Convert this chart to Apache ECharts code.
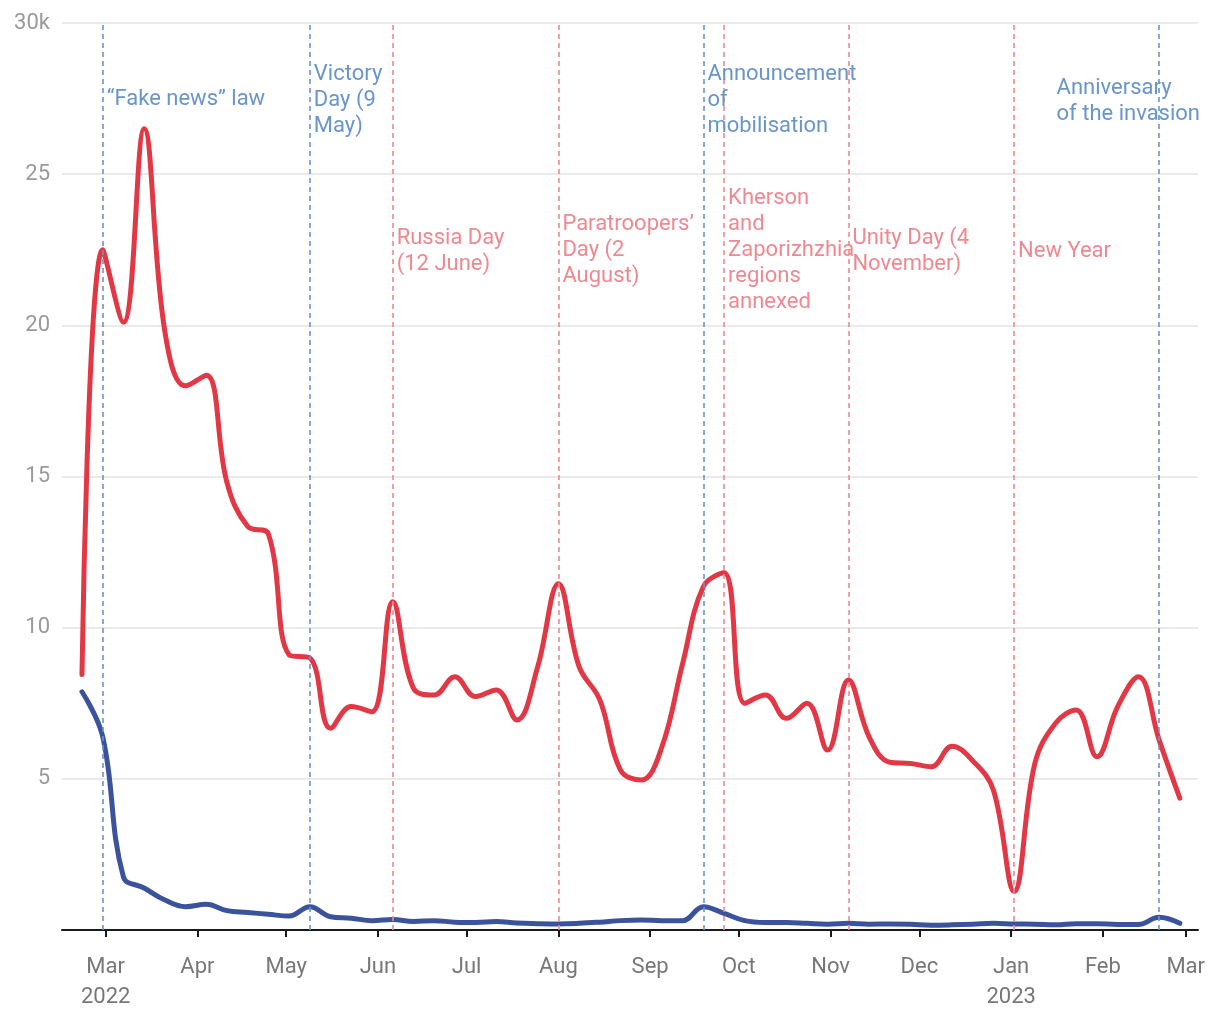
<!DOCTYPE html>
<html>
<head>
<meta charset="utf-8">
<script src="https://cdn.jsdelivr.net/npm/echarts@6/dist/echarts.min.js"></script>
<style>
  html, body { margin: 0; padding: 0; background: #fff; }
  #chart { width: 1220px; height: 1020px; }
</style>
</head>
<body>
<div id="chart"></div>
<script>
// ---- Data (values in thousands) ----
const weeks = [
  '2022-02-21','2022-02-28','2022-03-07','2022-03-14','2022-03-21','2022-03-28',
  '2022-04-04','2022-04-11','2022-04-18','2022-04-25','2022-05-02','2022-05-09',
  '2022-05-16','2022-05-23','2022-05-30','2022-06-06','2022-06-13','2022-06-20',
  '2022-06-27','2022-07-04','2022-07-11','2022-07-18','2022-07-25','2022-08-01',
  '2022-08-08','2022-08-15','2022-08-22','2022-08-29','2022-09-05','2022-09-12',
  '2022-09-19','2022-09-26','2022-10-03','2022-10-10','2022-10-17','2022-10-24',
  '2022-10-31','2022-11-07','2022-11-14','2022-11-21','2022-11-28','2022-12-05',
  '2022-12-12','2022-12-19','2022-12-26','2023-01-02','2023-01-09','2023-01-16',
  '2023-01-23','2023-01-30','2023-02-06','2023-02-13','2023-02-20','2023-02-27'
];
const redValues = [
  8.45, 22.5, 20.1, 26.5, 19.8, 18.0,
  18.35, 14.8, 13.35, 13.1, 9.1, 9.0,
  6.67, 7.39, 7.22, 10.86, 8.0, 7.77,
  8.38, 7.72, 7.94, 6.95, 8.71, 11.45,
  8.71, 7.61, 5.29, 4.96, 6.06, 8.82,
  11.36, 11.82, 7.5, 7.77, 7.0, 7.5,
  5.95, 8.27, 6.39, 5.55, 5.51, 5.4,
  6.08, 5.6, 4.63, 1.27, 5.5, 6.84,
  7.28, 5.73, 7.39, 8.38, 6.29, 4.36
];
const blueValues = [
  7.88, 6.4, 1.76, 1.39, 0.99, 0.77,
  0.85, 0.64, 0.58, 0.52, 0.46, 0.77,
  0.44, 0.39, 0.31, 0.35, 0.28, 0.31,
  0.26, 0.25, 0.28, 0.23, 0.21, 0.2,
  0.22, 0.26, 0.31, 0.33, 0.31, 0.31,
  0.77, 0.55, 0.31, 0.25, 0.25, 0.22,
  0.19, 0.22, 0.19, 0.2, 0.19, 0.16,
  0.17, 0.19, 0.22, 0.2, 0.19, 0.17,
  0.21, 0.21, 0.18, 0.18, 0.42, 0.22
];
const monthTicks = [
  '2022-03-01','2022-04-01','2022-05-01','2022-06-01','2022-07-01','2022-08-01',
  '2022-09-01','2022-10-01','2022-11-01','2022-12-01','2023-01-01','2023-02-01','2023-03-01'
];
const monthLabels = ['Mar\n2022','Apr','May','Jun','Jul','Aug','Sep','Oct','Nov','Dec','Jan\n2023','Feb','Mar'];
const yTicks = [0, 5, 10, 15, 20, 25, 30];
const yLabels = ['', '5', '10', '15', '20', '25', '30k'];

const eventDates = ['2022-02-28','2022-05-09','2022-06-06','2022-08-01','2022-09-19','2022-09-26','2022-11-07','2023-01-02','2023-02-20'];
const eventTexts = [
  '\u201CFake news\u201D law',
  'Victory\nDay (9\nMay)',
  'Russia Day\n(12 June)',
  'Paratroopers\u2019\nDay (2\nAugust)',
  'Announcement\nof\nmobilisation',
  'Kherson\nand\nZaporizhzhia\nregions\nannexed',
  'Unity Day (4\nNovember)',
  'New Year',
  'Anniversary\nof the invasion'
];
const eventKinds = ['blue','blue','red','red','blue','red','red','red','blue'];

// ---- Layout / style (kept apart from data) ----
const labelTops = [86, 61, 225, 211, 61, 185, 225, 238, 75];
const COLORS = { red: '#e23845', blue: '#3b539c', annRed: '#ee8991', annBlue: '#6a95c9' };
const ANN_FONT_SIZE = 22;
const ANN_FONT = 'Roboto';

// day number (UTC-based, so no timezone effects)
function toDay(s) {
  const p = s.split('-').map(Number);
  return Date.UTC(p[0], p[1] - 1, p[2]) / 86400000;
}

const chart = echarts.init(document.getElementById('chart'), null, { renderer: 'canvas' });

const tickDays = monthTicks.map(toDay);
const labelMap = {};
tickDays.forEach((t, i) => { labelMap[t] = monthLabels[i]; });
const yLabelMap = {};
yTicks.forEach((v, i) => { yLabelMap[v] = yLabels[i]; });

const markData = eventDates.map((d, i) => ({
  xAxis: toDay(d),
  lineStyle: { color: eventKinds[i] === 'red' ? COLORS.annRed : COLORS.annBlue }
}));

chart.setOption({
  animation: false,
  backgroundColor: '#fff',
  grid: { left: 62, right: 22, top: 23, bottom: 90 },
  xAxis: {
    type: 'value',
    min: toDay('2022-02-14') + 0.25,
    max: toDay('2023-03-05') + 0.15,
    axisLine: { show: true, onZero: false, lineStyle: { color: '#1a1a1a', width: 2 } },
    axisTick: { show: true, length: 7, lineStyle: { color: '#1a1a1a', width: 2 }, customValues: tickDays },
    axisLabel: {
      customValues: tickDays,
      formatter: v => labelMap[v] || '',
      color: '#777777',
      fontSize: 22,
      fontFamily: 'Roboto',
      lineHeight: 30,
      margin: 22
    },
    splitLine: { show: false }
  },
  yAxis: {
    type: 'value',
    min: 0,
    max: 30,
    interval: 5,
    axisLine: { show: false },
    axisTick: { show: false },
    axisLabel: {
      formatter: v => (yLabelMap[v] !== undefined ? yLabelMap[v] : String(v)),
      color: '#9a9a9a',
      fontSize: 22,
      fontFamily: 'Roboto',
      padding: [8, 0, 0, 0],
      margin: 12
    },
    splitLine: { show: true, lineStyle: { color: '#e3e3e3', width: 1.5 } }
  },
  series: [
    {
      type: 'line',
      name: 'events',
      data: [],
      z: 1,
      silent: true,
      markLine: {
        silent: true,
        symbol: ['none', 'none'],
        label: { show: false },
        lineStyle: { type: [5, 4], width: 1.6 },
        data: markData
      }
    },
    {
      type: 'line',
      name: 'blue',
      z: 3,
      data: weeks.map((w, i) => [toDay(w), blueValues[i]]),
      showSymbol: false,
      smooth: 0.4,
      lineStyle: { color: COLORS.blue, width: 5, cap: 'round', join: 'round' },
      itemStyle: { color: COLORS.blue }
    },
    {
      type: 'line',
      name: 'red',
      z: 4,
      data: weeks.map((w, i) => [toDay(w), redValues[i]]),
      showSymbol: false,
      smooth: 0.4,
      lineStyle: { color: COLORS.red, width: 5, cap: 'round', join: 'round' },
      itemStyle: { color: COLORS.red }
    }
  ]
});

// measure multi-line text width
const mctx = document.createElement('canvas').getContext('2d');
mctx.font = ANN_FONT_SIZE + 'px ' + ANN_FONT;
function blockWidth(t) {
  return Math.max.apply(null, t.split('\n').map(l => mctx.measureText(l).width));
}

// Annotation texts placed next to their event lines; shifted left if they would overflow
const width = chart.getWidth();
const graphics = eventDates.map((d, i) => {
  const px = chart.convertToPixel({ xAxisIndex: 0 }, toDay(d));
  let x = px + 4;
  const w = blockWidth(eventTexts[i]);
  if (x + w > width - 20) x = width - 20 - w;
  return {
    type: 'text',
    x: x,
    y: labelTops[i],
    z: 5,
    silent: true,
    style: {
      text: eventTexts[i],
      fill: eventKinds[i] === 'red' ? COLORS.annRed : COLORS.annBlue,
      fontSize: ANN_FONT_SIZE,
      fontFamily: ANN_FONT,
      lineHeight: 26,
      align: 'left',
      verticalAlign: 'top'
    }
  };
});
chart.setOption({ graphic: graphics });
</script>
</body>
</html>
